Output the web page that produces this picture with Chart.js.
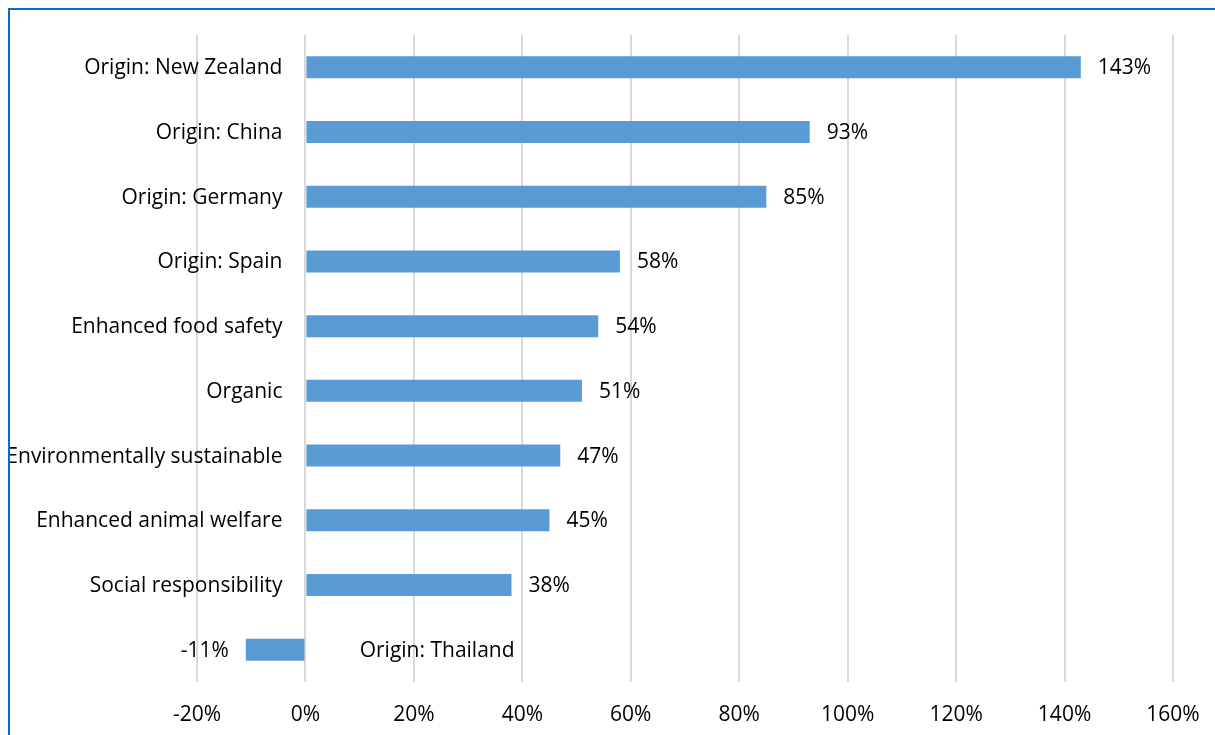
<!DOCTYPE html>
<html>
<head>
<meta charset="utf-8">
<script src="https://cdn.jsdelivr.net/npm/chart.js@4"></script>
<style>
  html, body { margin: 0; padding: 0; background: #fff; }
  #wrap { position: relative; width: 1215px; height: 735px; }
  #frame { position: absolute; left: 8px; top: 8px; right: 0; bottom: 0;
           border-top: 2px solid #0a6cc4; border-left: 2px solid #0a6cc4; pointer-events: none; }
  canvas { position: absolute; left: 0; top: 0; }
</style>
</head>
<body>
<div id="wrap">
  <canvas id="chart" width="1215" height="735"></canvas>
  <div id="frame"></div>
</div>
<script>
"use strict";

// Price premium by attribute, top to bottom
const categories = [
  "Origin: New Zealand",
  "Origin: China",
  "Origin: Germany",
  "Origin: Spain",
  "Enhanced food safety",
  "Organic",
  "Environmentally sustainable",
  "Enhanced animal welfare",
  "Social responsibility",
  "Origin: Thailand",
];
const premiums = [143, 93, 85, 58, 54, 51, 47, 45, 38, -11];
const xTicks = [-20, 0, 20, 40, 60, 80, 100, 120, 140, 160];

const FONT = "'Open Sans', sans-serif";
const FONT_SIZE = 21;
const TEXT = "#000";

// Category names sit against the 0% line; negative rows put theirs on the right
const categoryLabels = {
  id: "categoryLabels",
  afterDatasetsDraw(chart) {
    const { ctx, scales: { x, y } } = chart;
    const zero = x.getPixelForValue(0);
    ctx.save();
    ctx.font = FONT_SIZE + "px " + FONT;
    ctx.fillStyle = TEXT;
    ctx.textBaseline = "middle";
    categories.forEach((name, i) => {
      const py = y.getPixelForValue(i) + 1;
      if (premiums[i] >= 0) {
        ctx.textAlign = "right";
        ctx.fillText(name, zero - 23, py);
      } else {
        ctx.textAlign = "left";
        ctx.fillText(name, x.getPixelForValue(10), py);
      }
    });
    ctx.restore();
  },
};

// Value labels just past the end of each bar
const valueLabels = {
  id: "valueLabels",
  afterDatasetsDraw(chart) {
    const { ctx } = chart;
    const meta = chart.getDatasetMeta(0);
    ctx.save();
    ctx.font = FONT_SIZE + "px " + FONT;
    ctx.fillStyle = TEXT;
    ctx.textBaseline = "middle";
    meta.data.forEach((bar, i) => {
      const v = premiums[i];
      if (v >= 0) {
        ctx.textAlign = "left";
        ctx.fillText(v + "%", bar.x + 17, bar.y + 1);
      } else {
        ctx.textAlign = "right";
        ctx.fillText(v + "%", bar.x - 17, bar.y + 1);
      }
    });
    ctx.restore();
  },
};

new Chart(document.getElementById("chart"), {
  type: "bar",
  data: {
    labels: categories,
    datasets: [{
      data: premiums,
      backgroundColor: "#5b9bd5",
      borderWidth: 0,
      categoryPercentage: 1,
      barPercentage: 0.34,
    }],
  },
  options: {
    indexAxis: "y",
    responsive: false,
    animation: false,
    layout: { padding: { left: 197, right: 42, top: 35, bottom: 0 } },
    plugins: { legend: { display: false }, tooltip: { enabled: false } },
    scales: {
      x: {
        min: xTicks[0],
        max: xTicks[xTicks.length - 1],
        afterBuildTicks: (axis) => { axis.ticks = xTicks.map((v) => ({ value: v })); },
        afterFit: (axis) => {
          axis.height = 53;
          axis.paddingLeft = 0;
          axis.paddingRight = 0;
        },
        grid: { color: "#d9d9d9", lineWidth: 2, drawTicks: false },
        border: { display: false },
        ticks: {
          padding: 20,
          color: TEXT,
          font: { family: FONT, size: FONT_SIZE },
          callback: (v) => v + "%",
        },
      },
      y: {
        display: false,
        grid: { display: false },
      },
    },
  },
  plugins: [categoryLabels, valueLabels],
});
</script>
</body>
</html>
